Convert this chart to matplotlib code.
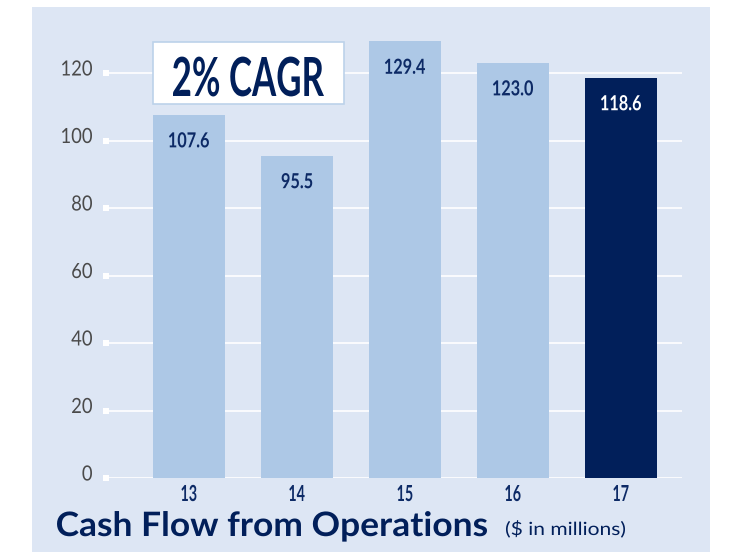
import matplotlib
matplotlib.use("Agg")
import matplotlib.pyplot as plt
import matplotlib.patches as patches
import matplotlib.transforms as mtransforms
from matplotlib.textpath import TextPath
from matplotlib.font_manager import FontProperties

# ── Data ─────────────────────────────────────────────────────────
years = ["13", "14", "15", "16", "17"]
cash_flow = [107.6, 95.5, 129.4, 123.0, 118.6]
y_ticks = [0, 20, 40, 60, 80, 100, 120]

# ── Style ────────────────────────────────────────────────────────
PANEL = "#dde6f4"
LIGHT = "#adc8e6"
DARK = "#011f5a"
NAVY = "#0d2a66"
GREY = "#4a4a4a"

W, H = 729, 552
fig = plt.figure(figsize=(W / 100, H / 100), dpi=100)
fig.patch.set_facecolor("white")


def draw_text(x, y, s, cap_px, family="DejaVu Sans", weight="normal", color="k",
              ha="center", va="center", fit=None, zorder=10):
    """Draw text as a path so it can be squeezed like a condensed face.
    x, y are display pixels; va='center' centres the cap height on y,
    va='baseline' puts the baseline on y. fit=(sample, width_px) sets the squeeze."""
    prop = FontProperties(family=family, weight=weight)
    cap = TextPath((0, 0), "H", size=100, prop=prop).get_extents().y1
    k = cap_px / cap
    sx = 1.0
    if fit is not None:
        sample = TextPath((0, 0), fit[0], size=100, prop=prop).get_extents()
        sx = fit[1] / (sample.width * k)
    path = TextPath((0, 0), s, size=100, prop=prop)
    ext = path.get_extents()
    if ha == "center":
        x0 = x - (ext.x0 + ext.width / 2) * k * sx
    elif ha == "right":
        x0 = x - ext.x1 * k * sx
    else:
        x0 = x - ext.x0 * k * sx
    y0 = y - cap_px / 2 if va == "center" else y
    tr = mtransforms.Affine2D().scale(k * sx, k).translate(x0, y0)
    fig.add_artist(patches.PathPatch(path, transform=tr, facecolor=color,
                                     edgecolor="none", zorder=zorder))


# light blue panel behind everything
fig.add_artist(patches.Rectangle((32 / W, 0), (710 - 32) / W, (552 - 7) / H,
                                 transform=fig.transFigure, facecolor=PANEL,
                                 edgecolor="none", zorder=-5))

# axes placement (pixels): x 109..682, zero line at y=478, 3.375 px per unit
y_top = 135
ax = fig.add_axes([109 / W, (H - 478) / H, (682 - 109) / W, y_top * 3.375 / H])
ax.set_facecolor("none")
ax.set_xlim(-0.74, 4.565)
ax.set_ylim(0, y_top)
for s in ax.spines.values():
    s.set_visible(False)
ax.set_xticks([])
ax.set_yticks([])

x = list(range(len(years)))
colors = [LIGHT] * (len(years) - 1) + [DARK]
ax.bar(x, cash_flow, width=0.667, color=colors, zorder=3)

# white gridlines with little square markers at the left end
for t in y_ticks:
    ax.axhline(t, color="white", lw=1.2, zorder=1)
blend = mtransforms.blended_transform_factory(ax.transAxes, ax.transData)
ax.scatter([-0.0052] * len(y_ticks), y_ticks, marker="s", s=18, color="white",
           transform=blend, clip_on=False, zorder=2, linewidths=0)

# y labels (right edge at x=92 px, a little above the gridline)
for t in y_ticks:
    _, yd = ax.transData.transform((0, t))
    draw_text(92, yd + 5, str(t), 15, family="Lato", color=GREY,
              ha="right", fit=("100", 30))

# x labels under the bars
for i, yr in enumerate(years):
    xd, yd = ax.transData.transform((i, 0))
    draw_text(xd, yd - 15, yr, 16, family="Lato", weight="bold",
              color=NAVY, fit=("13", 15))

# value labels inside the bars
for i, v in enumerate(cash_flow):
    c = "white" if i == len(cash_flow) - 1 else NAVY
    xd, yd = ax.transData.transform((i, v))
    draw_text(xd, yd - 25, f"{v:.1f}", 15, family="Lato", weight="bold",
              color=c, fit=("107.6", 40))

# CAGR box
fig.add_artist(patches.Rectangle((153 / W, 1 - 104 / H), (344 - 153) / W, (104 - 42) / H,
                                 transform=fig.transFigure, facecolor="white",
                                 edgecolor="#bcd2ea", lw=1.2, zorder=5))
draw_text(248.5, H - 76.5, "2% CAGR", 39, family="Lato", weight="bold",
          color=DARK, fit=("2% CAGR", 151))

# title
draw_text(57, H - 536, "Cash Flow from Operations", 24.3, family="Lato",
          weight="bold", color=DARK, ha="left", va="baseline",
          fit=("Cash Flow from Operations", 430))
draw_text(506, H - 535, "($ in millions)", 13, family="Lato", color=DARK,
          ha="left", va="baseline", fit=("($ in millions)", 119))

fig.savefig("out.png", dpi=100, facecolor="white")
